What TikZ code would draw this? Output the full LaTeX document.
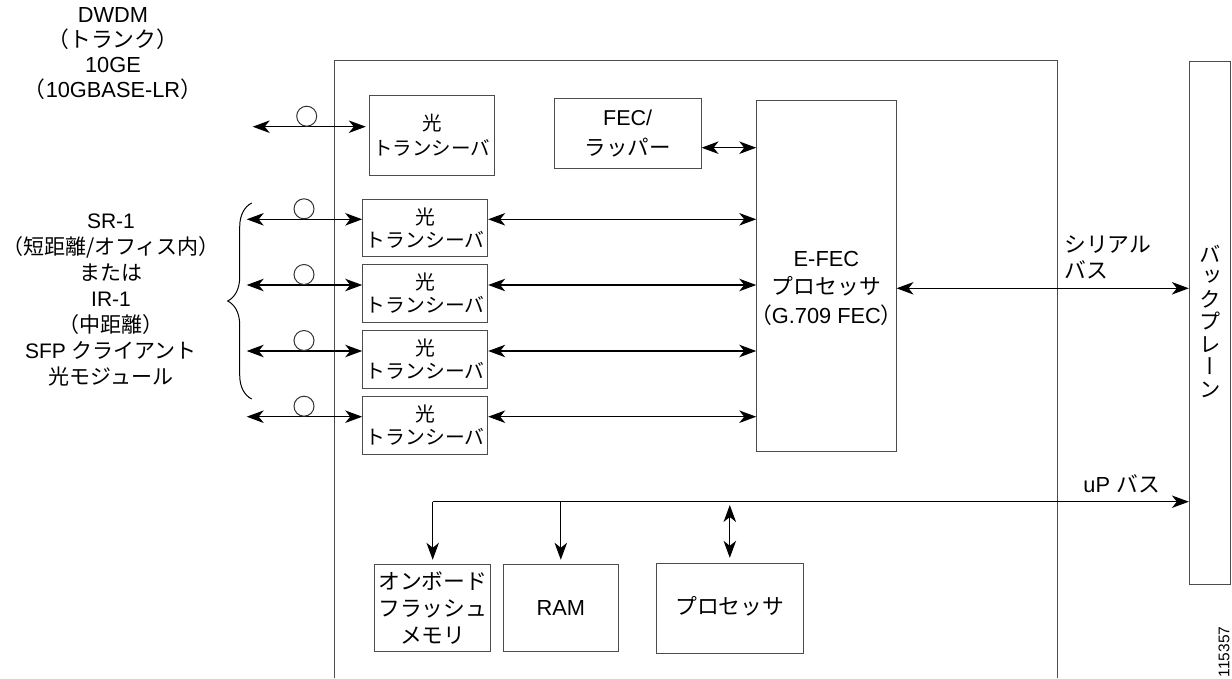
\documentclass[tikz,border=0pt]{standalone}
\usepackage{fontspec}
\usepackage{graphicx}
\setmainfont{Liberation Sans}
\newfontfamily\jpf{Noto Sans CJK JP}
\newfontfamily\jpv[RawFeature=+vert]{Noto Sans CJK JP}
\usetikzlibrary{arrows.meta,decorations.pathreplacing}
\newcommand\J[1]{{\jpf #1}}
\newcommand\fsz{\fontsize{21.8}{26}\selectfont}
\newcommand\fst{\fontsize{19.8}{23}\selectfont}
\tikzset{
  blk/.style={draw=black!70,line width=1pt,inner sep=0pt,align=center,font=\fsz},
  txbox/.style={blk,minimum width=125pt,minimum height=57.6pt,font=\fst},
  lbl/.style={inner sep=0pt,align=center,font=\fsz},
  dbl/.style={line width=1.1pt,{Stealth[length=17pt,width=12.5pt,inset=5pt]}-{Stealth[length=17pt,width=12.5pt,inset=5pt]}},
  one/.style={line width=1.1pt,-{Stealth[length=17pt,width=12.5pt,inset=5pt]}},
  ring/.style={draw=black!80,line width=1pt,circle,minimum size=20pt,inner sep=0pt,anchor=south},
  frame/.style={draw=black!70,line width=1pt}
}
\begin{document}
\begin{tikzpicture}[x=1pt,y=-1pt]
\useasboundingbox (0,0) rectangle (1232,678);
% outer board frame (open at the bottom)
\draw[frame] (334,678) -- (334,60) -- (1057,60) -- (1057,678);

% boxes
\node[blk,minimum width=125pt,minimum height=80pt,font={\fontsize{19.5}{25}\selectfont}] (trk) at (431.8,135) {\J{光}\\\J{トランシーバ}};
\node[blk,minimum width=146.7pt,minimum height=70pt,font={\fontsize{21.5}{30}\selectfont}] (fec) at (627.7,133.3) {FEC/\\\J{ラッパー}};
\node[txbox] (tx1) at (425.2,228) {\J{光}\\\J{トランシーバ}};
\node[txbox] (tx2) at (425.2,293.3) {\J{光}\\\J{トランシーバ}};
\node[txbox] (tx3) at (425.2,359.5) {\J{光}\\\J{トランシーバ}};
\node[txbox] (tx4) at (425.2,425.3) {\J{光}\\\J{トランシーバ}};
\node[blk,minimum width=139.3pt,minimum height=351.4pt] (efec) at (826.4,276) {};
\node[lbl,font={\fontsize{21.8}{28.5}\selectfont}] (efect) at (826.4,288) {E-FEC\\\J{プロセッサ}\\\J{（}G.709 FEC\J{）}};
\node[blk,minimum width=40.7pt,minimum height=523pt] (bp) at (1209.7,322.5) {};
\node[lbl,font={\fontsize{21.5}{22.5}\selectfont\jpv}] (bpt) at (1210,321) {バ\\ッ\\ク\\プ\\レ\\ー\\ン};
\node[blk,minimum width=116pt,minimum height=87.5pt,font={\fontsize{21.8}{27}\selectfont}] (flash) at (432.7,608) {\J{オンボード}\\\J{フラッシュ}\\\J{メモリ}};
\node[blk,minimum width=114.8pt,minimum height=87.5pt] (ram) at (560.8,608) {RAM};
\node[blk,minimum width=147.6pt,minimum height=90pt] (cpu) at (729.8,608.3) {\raisebox{5pt}{\J{プロセッサ}}};

% side labels
\node[lbl,font={\fontsize{21.8}{25}\selectfont}] (dwdm) at (113,53.5) {DWDM\\\J{（トランク）}\\10GE\\\J{（}10GBASE-LR\J{）}};
\node[lbl,font={\fontsize{21}{26}\selectfont}] (sr) at (111,300) {SR-1\\\J{（短距離/オフィス内）}\\\J{または}\\IR-1\\\J{（中距離）}\\SFP \J{クライアント}\\\J{光モジュール}};
\node[lbl,align=left,anchor=west] (ser) at (1064,257) {\J{シリアル}\\\J{バス}};
\node[lbl,anchor=east] (upb) at (1160,484) {uP \J{バス}};
\node[inner sep=0pt,rotate=90,font={\fontsize{15.5}{18}\selectfont}] (fig) at (1224,652) {115357};

% external fibre ends
\coordinate (e0) at (252.7,126.7);
\coordinate (e1) at (246.7,219.3);
\coordinate (e2) at (246.7,285);
\coordinate (e3) at (246.7,351);
\coordinate (e4) at (246.7,416.7);
\draw[dbl,shorten >=3pt] (e0) -- (e0 -| trk.west);
\draw[dbl] (e1) -- (e1 -| tx1.west);
\draw[dbl] (e2) -- (e2 -| tx2.west);
\draw[dbl] (e3) -- (e3 -| tx3.west);
\draw[dbl] (e4) -- (e4 -| tx4.west);
\node[ring] (c0) at (306.7,126.7) {};
\node[ring] (c1) at (304,219.3) {};
\node[ring] (c2) at (304,285) {};
\node[ring] (c3) at (304,351) {};
\node[ring] (c4) at (304,416.7) {};

% transceivers to E-FEC
\draw[dbl] (tx1.east |- e1) -- (efec.west |- e1);
\draw[dbl] (tx2.east |- e2) -- (efec.west |- e2);
\draw[dbl] (tx3.east |- e3) -- (efec.west |- e3);
\draw[dbl] (tx4.east |- e4) -- (efec.west |- e4);
\coordinate (f) at (0,147.7);
\draw[dbl] (fec.east |- f) -- (efec.west |- f);
\coordinate (s) at (0,288.3);
\draw[dbl] (efec.east |- s) -- (bp.west |- s);

% uP bus
\coordinate (busy) at (0,501.7);
\coordinate (busz) at (0,505);
\draw[one] (flash.north |- busy) -- (bp.west |- busy);
\draw[one] (flash.north |- busy) -- ([yshift=4pt]flash.north);
\draw[one] (ram.north |- busy) -- ([yshift=4pt]ram.north);
\draw[dbl] (cpu.north |- busz) -- ([yshift=5pt]cpu.north);

% brace
\coordinate (bb) at (251.7,399);
\coordinate (bt) at (251.7,203);
\draw[line width=1pt,decorate,decoration={brace,amplitude=24pt}] (bb) -- (bt);
\end{tikzpicture}
\end{document}
